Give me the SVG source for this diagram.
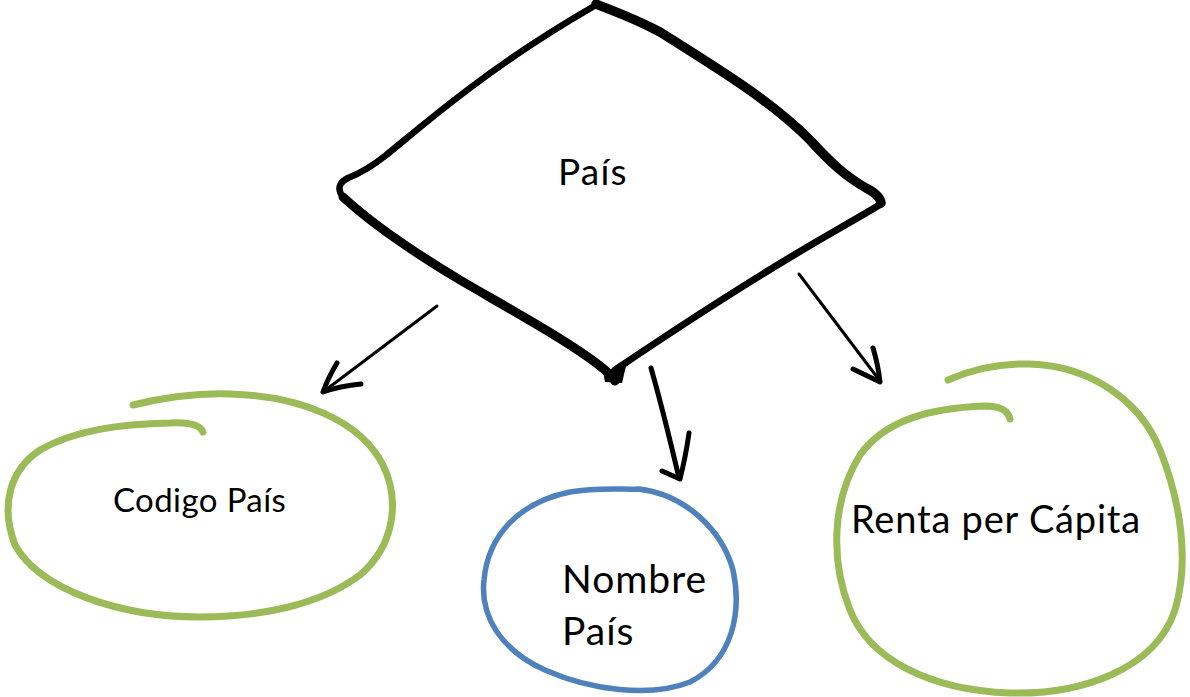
<svg xmlns="http://www.w3.org/2000/svg" width="1190" height="697" viewBox="0 0 1190 697">
<style>
.lbl{font-family:Lato,"Open Sans","Liberation Sans",sans-serif;fill:#000}
.green{fill:none;stroke:#9BBB59;stroke-width:7;stroke-linecap:round;stroke-linejoin:round}
.blue{fill:none;stroke:#4F81BD;stroke-width:5.5;stroke-linecap:round;stroke-linejoin:round}
.ink{fill:none;stroke:#000;stroke-linecap:round;stroke-linejoin:round}
</style>
<rect width="1190" height="697" fill="#fff"/>
<g id="node-pais">
<path class="ink" stroke-width="6.5" d="M596,5 C570,20 520,50 470,88 C430,118 405,140 385,156 C370,168 358,174 348,178 Q334,185 343,197"/>
<path class="ink" stroke-width="9" d="M343,197 C370,222 410,250 460,280 C520,315 575,345 605,370 Q612,377 615,381"/>
<path class="ink" stroke-width="7" d="M615,370 C680,326 770,268 840,228 Q868,212 881,204"/>
<path class="ink" stroke-width="9.5" d="M881,203 Q880,195 866,188 C845,176 830,162 810,140 C770,100 720,70 660,32 C630,16 610,10 596,4"/>
<path d="M603,371 L626,366 L622,383 L605,382 Z" fill="#000"/>
<text class="lbl" x="558" y="185" font-size="37" letter-spacing="1.2">País</text>
</g>
<g id="node-codigo">
<path class="green" d="M133,405 C170,396 200,393 230,394 C300,396 360,420 383,465 C400,500 395,545 360,575 C320,605 260,617 200,617 C120,617 40,590 15,545 C0,505 10,470 40,450 C75,430 120,424 170,423 C190,422 200,425 203,432"/>
<text class="lbl" x="113" y="512" font-size="33" letter-spacing="0.4">Codigo País</text>
</g>
<g id="node-nombre">
<path class="blue" d="M638,489 C685,494 722,530 733,570 C742,612 733,660 690,682 C650,698 590,690 545,670 C500,650 480,615 484,580 C488,535 520,502 570,492 C600,487 625,490 638,489 Z"/>
<text class="lbl" x="562" y="593" font-size="39" letter-spacing="1">Nombre</text>
<text class="lbl" x="562" y="645" font-size="39" letter-spacing="1">País</text>
</g>
<g id="node-renta">
<path class="green" d="M948,380 C975,368 1000,363 1030,364 C1090,366 1140,400 1160,450 C1180,500 1190,560 1175,610 C1155,670 1080,695 1010,693 C930,690 870,660 850,610 C830,560 832,500 860,455 C885,420 930,408 985,406 C1000,406 1008,410 1010,419"/>
<text class="lbl" x="851" y="533" font-size="38" letter-spacing="0.8">Renta per Cápita</text>
</g>
<g id="connectors">
<path class="ink" stroke-width="3" d="M437,306 L323,392"/>
<path class="ink" stroke-width="5" d="M337,363 Q328,378 323,392 Q340,386 361,384"/>
<path class="ink" stroke-width="5" d="M651,368 Q663,410 679,478"/>
<path class="ink" stroke-width="5" d="M662,471 L680,479 Q686,455 689,433"/>
<path class="ink" stroke-width="3" d="M799,274 L880,381"/>
<path class="ink" stroke-width="5" d="M853,369 L880,382 Q878,364 873,348"/>
</g>
</svg>
